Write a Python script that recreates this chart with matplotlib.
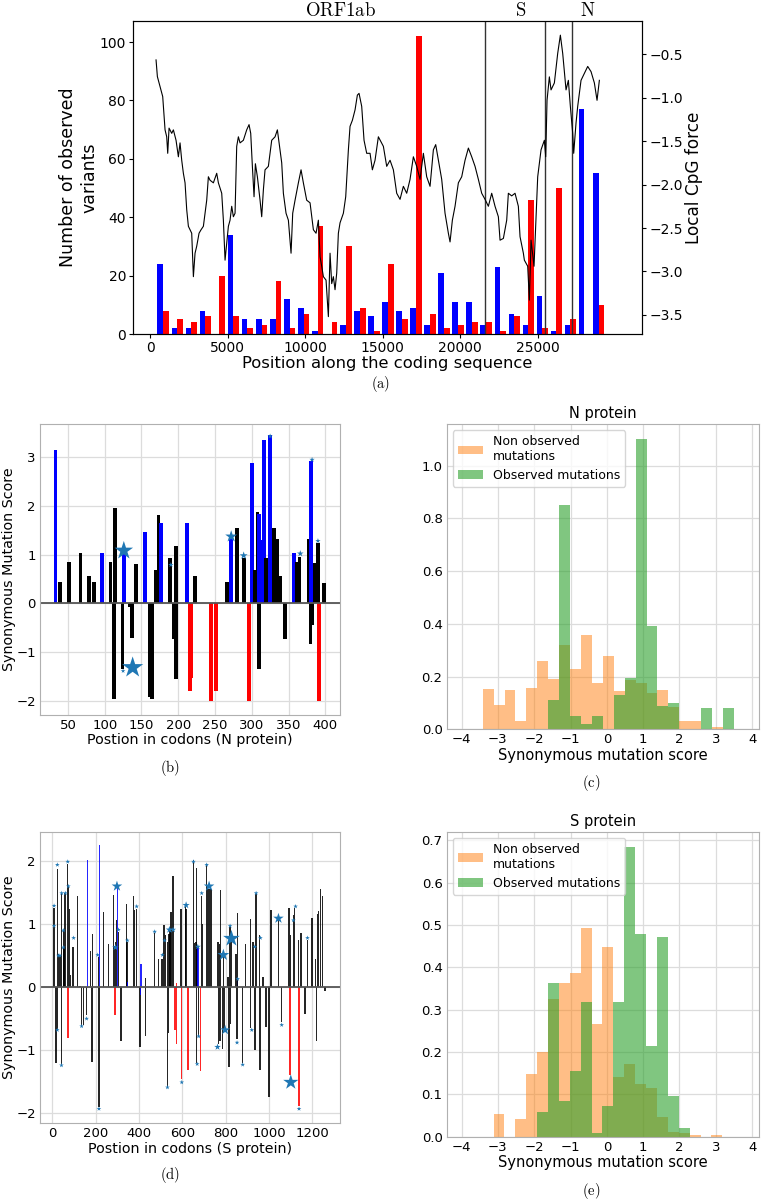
import numpy as np
import matplotlib
matplotlib.use('Agg')
import matplotlib.pyplot as plt
from matplotlib.transforms import blended_transform_factory

plt.rcParams['font.family'] = ['DejaVu Sans']
plt.rcParams['mathtext.fontset'] = 'cm'

# ---------------- panel (a) data ----------------
bin_index = np.arange(32)
bin_start, bin_step = 850, 906
blue_counts = [24, 2, 2, 8, 0, 34, 5, 5, 5, 12, 9, 1, 0, 3, 8, 6, 11, 8, 9, 3,
               21, 11, 11, 3, 23, 7, 3, 13, 1, 3, 77, 55]
red_counts = [8, 5, 4, 6, 20, 6, 2, 3, 18, 2, 7, 37, 4, 30, 9, 1, 24, 5, 102, 7,
              2, 3, 4, 4, 1, 6, 46, 2, 50, 5, 0, 10]
gene_bounds = [21600, 25500, 27200]
gene_names = ['ORF1ab', 'S', 'N']

cpg_pos = [387, 473, 645, 817, 968, 1075, 1140, 1226, 1398, 1505, 1677, 1828, 1935, 2043,
           2150, 2258, 2366, 2473, 2580, 2688, 2796, 2903, 3010, 3161, 3290, 3441, 3548,
           3656, 3763, 3871, 4086, 4301, 4409, 4624, 4731, 4839, 4946, 5054, 5161, 5269,
           5376, 5484, 5591, 5699, 5806, 6021, 6236, 6387, 6495, 6602, 6710, 6796, 6925,
           7097, 7204, 7312, 7419, 7634, 7849, 8065, 8215, 8387, 8495, 8602, 8774, 8925,
           9097, 9204, 9355, 9570, 9742, 9892, 10107, 10323, 10538, 10710, 10860, 10968,
           11075, 11183, 11355, 11505, 11613, 11720, 11828, 11935, 12043, 12150, 12258,
           12473, 12624, 12796, 12903, 13054, 13226, 13376, 13484, 13656, 13806, 13978,
           14194, 14344, 14516, 14731, 15054, 15269, 15484, 15699, 15914, 16129, 16344,
           16559, 16774, 16989, 17204, 17419, 17634, 17849, 18065, 18280, 18430, 18602,
           18817, 19032, 19247, 19355, 19505, 19677, 19892, 20108, 20323, 20538, 20753,
           20968, 21183, 21398, 21613, 21828, 22043, 22258, 22473, 22581, 22796, 23011,
           23118, 23333, 23548, 23763, 23871, 24086, 24151, 24366, 24473, 24581, 24731,
           24774, 25011, 25226, 25441, 25527, 25613, 25763, 25871, 26086, 26301, 26473,
           26624, 26839, 26989, 27118, 27269, 27333, 27484, 27591, 27806, 28022, 28237,
           28452, 28667, 28839, 28989]
cpg_val = [-0.565, -0.757, -0.87, -0.987, -1.37, -1.45, -1.64, -1.35, -1.41, -1.37, -1.49,
           -1.68, -1.52, -1.72, -1.87, -1.98, -2.29, -2.48, -2.52, -2.56, -3.06, -2.79,
           -2.71, -2.56, -2.52, -2.48, -2.33, -2.18, -1.91, -1.95, -1.98, -1.87, -1.98,
           -2.10, -2.41, -2.87, -2.67, -2.48, -2.41, -2.25, -2.37, -2.33, -1.56, -1.45,
           -1.52, -1.49, -1.37, -1.31, -1.41, -1.79, -2.14, -1.76, -1.91, -2.18, -2.37,
           -2.06, -1.83, -1.79, -1.49, -1.45, -1.37, -1.60, -1.75, -2.10, -2.33, -2.41,
           -2.79, -2.33, -2.18, -1.98, -1.83, -1.98, -2.18, -2.21, -2.52, -2.56, -2.41,
           -2.83, -2.94, -3.06, -3.10, -3.52, -2.79, -3.14, -3.06, -3.21, -3.02, -2.56,
           -2.44, -2.33, -2.14, -1.60, -1.33, -1.26, -1.14, -0.97, -0.95, -1.10, -1.49,
           -1.64, -1.64, -1.83, -1.72, -1.45, -1.56, -1.79, -1.72, -1.83, -2.10, -2.17,
           -2.02, -2.10, -1.94, -1.68, -1.79, -1.94, -1.64, -1.91, -2.02, -1.60, -1.54,
           -1.72, -1.94, -2.33, -2.56, -2.66, -2.41, -2.25, -1.98, -1.91, -1.72, -1.58,
           -1.68, -1.79, -1.94, -2.10, -2.17, -2.25, -2.10, -2.25, -2.37, -2.64, -2.62,
           -2.41, -2.10, -2.13, -2.10, -2.25, -2.60, -2.79, -2.87, -2.94, -3.33, -2.64,
           -2.87, -2.94, -1.91, -1.60, -1.49, -1.68, -1.03, -0.76, -0.91, -0.83, -0.49,
           -0.28, -0.49, -0.91, -0.80, -1.10, -1.41, -1.64, -1.29, -1.10, -0.80, -0.72,
           -0.64, -0.70, -0.83, -1.03, -0.80]

# ---------------- panel (b) data: N protein ----------------
n_pos = [33, 39, 51, 67, 79, 85, 96, 108, 114, 126, 143, 155, 170, 173, 177, 189, 197,
         212, 223, 266, 272, 280, 289, 300, 304, 308, 310, 312, 317, 319, 325, 330, 334,
         338, 357, 361, 365, 378, 381, 386, 390, 398,
         113, 124, 134, 137, 161, 164, 194, 197, 216, 218, 245, 251, 296, 310, 345, 380,
         382, 391]
n_score = [3.13, 0.44, 0.85, 1.04, 0.56, 0.44, 1.03, 0.85, 1.95, 1.10, 0.81, 1.47, 0.68,
           1.80, 1.64, 0.92, 1.18, 1.64, 0.56, 0.44, 1.37, 1.54, 0.94, 2.87, 0.69, 1.88,
           1.83, 1.30, 3.35, 0.92, 3.44, 1.54, 1.32, 0.56, 1.03, 0.85, 0.96, 1.32, 2.91,
           0.83, 1.23, 0.42,
           -1.96, -1.33, -0.08, -0.71, -1.91, -1.96, -0.73, -1.55, -1.78, -1.53, -2.0,
           -1.78, -2.0, -1.33, -0.72, -0.83, -0.44, -2.0]
n_color = ['b', 'k', 'k', 'k', 'k', 'k', 'b', 'k', 'k', 'b', 'k', 'b', 'k', 'k', 'b', 'k',
           'k', 'b', 'k', 'k', 'b', 'k', 'k', 'b', 'k', 'k', 'b', 'b', 'b', 'k', 'b', 'k',
           'k', 'k', 'b', 'k', 'k', 'k', 'b', 'k', 'k', 'k',
           'k', 'k', 'k', 'k', 'k', 'k', 'k', 'k', 'r', 'r', 'r', 'r', 'r', 'k', 'k', 'k',
           'k', 'r']
n_star_pos = [126, 138, 125, 190, 272, 289, 325, 366, 382, 390]
n_star_val = [1.08, -1.31, -1.38, 0.79, 1.37, 0.98, 3.42, 1.02, 2.94, 1.28]
n_star_ms = [14, 16, 3.5, 4, 9, 6, 4, 5, 4, 4]

# ---------------- panel (c) data: N protein histogram ----------------
c_range = (-3.42, 3.50)
c_nbins = 23
c_nonobs = [0.152, 0.092, 0.148, 0.03, 0.156, 0.258, 0.191, 0.318, 0.230, 0.356, 0.174,
            0.277, 0.146, 0.186, 0.174, 0.136, 0.148, 0.085, 0.03, 0.03, 0.0, 0.01, 0.0]
c_obs = [0, 0, 0, 0, 0, 0, 0.11, 0.85, 0.05, 0.02, 0.05, 0.0, 0.13, 0.195, 1.10, 0.39,
         0.088, 0.10, 0, 0, 0.08, 0, 0.08]

# ---------------- panel (d) data: S protein ----------------
s_pos = [8, 23, 28, 35, 43, 51, 54, 58, 71, 74, 80, 85, 95, 115, 128, 162, 177, 186, 212,
         218, 235, 260, 283, 288, 292, 297, 300, 305, 342, 345, 348, 374, 378, 388, 409,
         429, 471, 489, 505, 515, 522, 532, 538, 543, 548, 557, 574, 594, 614, 617, 651,
         655, 662, 665, 668, 671, 688, 692, 712, 718, 725, 731, 765, 771, 777, 789, 811,
         820, 826, 848, 854, 855, 892, 914, 925, 940, 955, 972, 1008, 1043, 1092, 1100,
         1112, 1118, 1135, 1148, 1177, 1197, 1214, 1223, 1229, 1238, 1245,
         17, 24, 42, 72, 135, 143, 158, 182, 215, 289, 317, 405, 408, 431, 531, 537, 566,
         572, 597, 625, 666, 675, 683, 767, 774, 786, 792, 814, 821, 852, 878, 915, 934,
         957, 985, 1000, 1058, 1097, 1138, 1166, 1218, 1258]
s_score = [1.26, 1.88, 0.53, 0.50, 1.49, 0.91, 0.64, 1.49, 1.96, 1.60, 1.24, 0.19, 0.64,
           1.44, 0.02, 2.02, 0.57, 0.85, 0.48, 2.25, 1.19, 0.69, 1.46, 0.65, 0.72, 1.07,
           1.60, 0.88, 1.32, 0.72, 0.08, 1.44, 1.22, 1.24, 0.37, 0.14, 0.86, 0.45, 0.45,
           0.98, 0.82, 0.72, 0.85, 0.90, 1.19, 1.76, 0.06, 1.24, 1.28, 1.24, 2.01, 0.70,
           0.72, 1.89, 0.62, 0.65, 1.45, 1.00, 1.93, 1.55, 1.55, 1.55, 0.72, 0.69, 1.54,
           0.51, 0.16, 0.95, 0.78, 0.53, 0.10, 1.18, 0.69, 1.08, 0.72, 1.47, 0.82, 0.16,
           1.23, 1.09, 1.26, 0.82, 1.14, 1.26, 0.74, 0.86, 0.74, 1.09, 0.45, 1.16, 1.20,
           1.55, 1.45,
           -1.20, -0.68, -1.22, -0.80, -0.63, -0.60, -0.45, -1.18, -1.90, -0.45, -0.85,
           -0.95, -0.12, -0.77, -1.58, -0.72, -0.68, -0.90, -1.45, -1.32, -1.20, -0.78,
           -1.33, -0.90, -0.85, -0.98, -0.68, -1.27, -0.58, -0.82, -1.20, -0.65, -1.00,
           -1.32, -0.63, -1.75, -0.55, -1.40, -1.88, -0.43, -0.85, -0.06]
s_color = (['k'] * 15 + ['b'] + ['k'] * 3 + ['b'] + ['k'] * 6 + ['b', 'k', 'k', 'k', 'b']
           + ['k'] * 3 + ['b'] + ['k'] * 11 + ['r'] + ['k'] * 8 + ['b'] + ['k'] * 14
           + ['b'] + ['k'] * 22
           + ['k'] * 3 + ['r'] + ['k'] * 5 + ['r', 'k', 'k', 'b', 'k', 'k', 'k', 'r', 'r',
                                              'r', 'r', 'k', 'k', 'r'] + ['k'] * 14
           + ['r', 'r', 'k', 'k', 'k', 'b'])
s_star_pos = [8, 8, 23, 28, 35, 43, 51, 51, 60, 71, 74, 98, 23, 42, 135, 158, 209, 215,
              291, 298, 305, 346, 389, 472, 508, 518, 531, 540, 557, 597, 617, 651, 668,
              671, 675, 689, 712, 723, 762, 789, 797, 820, 826, 852, 855, 878, 920, 934,
              940, 960, 1043, 1058, 1100, 1112, 1122, 1138, 1177]
s_star_val = [1.29, 0.97, 1.94, 0.50, 0.50, 1.49, 0.90, 0.63, 1.49, 1.99, 1.60, 0.78, -0.68,
              -1.24, -0.62, -0.50, 0.51, -1.93, 0.63, 1.60, 0.91, 0.74, 1.28, 0.88, 0.51,
              0.74, -1.59, 0.91, 0.91, -1.51, 1.30, 1.99, -1.22, 0.64, -0.78, 1.49, 1.94,
              1.60, -0.95, 0.51, -0.68, 0.97, 0.77, -0.88, 0.13, -1.23, -0.68, 0.64, 1.49,
              0.78, 1.09, -0.60, -1.51, 1.06, 1.28, -1.93, 0.78]
s_star_ms = [3.5, 3.5, 3.5, 3.5, 3.5, 3.5, 3.5, 3.5, 3.5, 3.5, 3.5, 3.5, 3.5, 3.5, 3.5,
             3.5, 3.5, 3.5, 5, 8, 3.5, 3.5, 3.5, 3.5, 3.5, 3.5, 3.5, 5.5, 4.5, 3.5, 5.5,
             3.5, 3.5, 4.5, 3.5, 3.5, 3.5, 8, 5, 9, 7.5, 3.5, 12.5, 3.5, 3.5, 3.5, 3.5,
             3.5, 3.5, 3.5, 8, 3.5, 11.5, 3.5, 3.5, 3.5, 3.5]

# ---------------- panel (e) data: S protein histogram ----------------
e_range = (-3.12, 3.18)
e_nbins = 21
e_nonobs = [0.054, 0.0, 0.042, 0.149, 0.20, 0.324, 0.364, 0.386, 0.492, 0.267, 0.447,
            0.142, 0.172, 0.124, 0.114, 0.047, 0.010, 0.008, 0.003, 0.0, 0.005]
e_obs = [0, 0, 0, 0, 0.059, 0.363, 0.085, 0.155, 0.317, 0.008, 0.073, 0.318, 0.685, 0.479,
         0.214, 0.472, 0.097, 0.02, 0, 0, 0]

# ================= drawing =================
W, H = 762, 1200
fig = plt.figure(figsize=(W / 100, H / 100), dpi=100)


def px_axes(l, t, r, b):
    return fig.add_axes([l / W, 1 - b / H, (r - l) / W, (b - t) / H])


def caption(x, y, s):
    fig.text(x / W, 1 - y / H, r'$\mathrm{' + s + '}$', ha='center', va='center',
             fontsize=10.5)


cmap = {'b': '#0000ff', 'r': '#ff0000', 'k': '#000000'}
star_color = '#1f77b4'
grid_col = '#dcdcdc'
frame_col = '#b0b0b0'

# ---- (a)
AL, AT, AR, AB = 133, 21, 642, 334
ax = px_axes(AL, AT, AR, AB)
centers = bin_start + bin_step * bin_index
bw = 370
ax.bar(centers - bw / 2, blue_counts, width=bw, color='#0000ff', linewidth=0)
ax.bar(centers + bw / 2, red_counts, width=bw, color='#ff0000', linewidth=0)
for g in gene_bounds:
    ax.axvline(g, color='#333333', lw=1.0)
ax.set_xlim(-1100, 31740)
ax.set_ylim(0, 107.2)
ax.set_xticks([0, 5000, 10000, 15000, 20000, 25000])
ax.set_yticks([0, 20, 40, 60, 80, 100])
ax.tick_params(labelsize=10, pad=2, length=3)
ax.set_xlabel('Position along the coding sequence', fontsize=11.8)
ax.xaxis.set_label_coords(0.5, -(356 - AB) / (AB - AT))
ax.set_ylabel('Number of observed\nvariants', fontsize=12.5)
ax.yaxis.set_label_coords(-(AL - 98) / (AR - AL), 0.5)
for sp in ax.spines.values():
    sp.set_color('#333333')
ax2 = ax.twinx()
ax2.plot(cpg_pos, cpg_val, color='black', lw=0.8)
ax2.set_ylim(-3.72, -0.117)
ax2.set_yticks([-3.5, -3.0, -2.5, -2.0, -1.5, -1.0, -0.5])
ax2.tick_params(labelsize=10, pad=2.5, length=3)
ax2.set_ylabel('Local CpG force', fontsize=12.2)
ax2.yaxis.set_label_coords((685 - AL) / (AR - AL), 0.5)
tr = blended_transform_factory(ax.transData, ax.transAxes)
for name, gx in zip(gene_names, [12300, 23900, 28250]):
    ax.text(gx, 1.034, r'$\mathrm{' + name + '}$', transform=tr, ha='center', va='center',
            fontsize=13.5)
caption(381, 384, '(a)')


def style_grid(a):
    a.grid(True, color=grid_col, lw=0.9)
    a.set_axisbelow(True)
    for sp in a.spines.values():
        sp.set_color(frame_col)
    a.tick_params(length=0, labelsize=9.5, pad=3)


# ---- (b)
axb = px_axes(40, 424, 340, 714.5)
style_grid(axb)
axb.bar(n_pos, n_score, width=5, color=[cmap[c] for c in n_color], linewidth=0, zorder=2)
axb.axhline(0, color='#555555', lw=1.3, zorder=2.5)
axb.scatter(n_star_pos, n_star_val, s=np.array(n_star_ms) ** 2, marker='*',
            color=star_color, zorder=3, linewidths=0)
axb.set_xlim(12, 420)
axb.set_ylim(-2.27, 3.67)
axb.set_xticks(range(50, 401, 50))
axb.set_yticks([-2, -1, 0, 1, 2, 3])
axb.set_xlabel('Postion in codons (N protein)', fontsize=10.3, labelpad=1)
axb.set_ylabel('Synonymous Mutation Score', fontsize=10.3)
axb.yaxis.set_label_coords(-24 / 300, 0.5)
caption(170, 768, '(b)')

# ---- (d)
axd = px_axes(40, 831.7, 340, 1123.3)
style_grid(axd)
axd.bar(s_pos, s_score, width=6.5, color=[cmap[c] for c in s_color], linewidth=0,
        zorder=2, alpha=0.85)
axd.axhline(0, color='#555555', lw=1.3, zorder=2.5)
axd.scatter(s_star_pos, s_star_val, s=np.array(s_star_ms) ** 2, marker='*',
            color=star_color, zorder=3, linewidths=0)
axd.set_xlim(-57, 1327)
axd.set_ylim(-2.16, 2.465)
axd.set_xticks(range(0, 1201, 200))
axd.set_yticks([-2, -1, 0, 1, 2])
axd.set_xlabel('Postion in codons (S protein)', fontsize=10.3, labelpad=1)
axd.set_ylabel('Synonymous Mutation Score', fontsize=10.3)
axd.yaxis.set_label_coords(-24 / 300, 0.5)
caption(170, 1175, '(d)')


def hist_panel(a, rng, nb, nonobs, obs, title, ymax, yt):
    edges = np.linspace(rng[0], rng[1], nb + 1)
    widths = np.diff(edges)
    a.bar(edges[:-1], nonobs, width=widths, align='edge', color='#ff7f0e', alpha=0.5,
          linewidth=0, label='Non observed\nmutations', zorder=2)
    a.bar(edges[:-1], obs, width=widths, align='edge', color='#2ca02c', alpha=0.6,
          linewidth=0, label='Observed mutations', zorder=2.1)
    style_grid(a)
    a.set_xlim(-4.41, 4.19)
    a.set_ylim(0, ymax)
    a.set_xticks(range(-4, 5))
    a.set_yticks(yt)
    a.set_xlabel('Synonymous mutation score', fontsize=10.5, labelpad=1)
    a.set_title(title, fontsize=10.5, pad=4)
    leg = a.legend(loc='upper left', fontsize=9, frameon=True, fancybox=True,
                   handlelength=2.0, labelspacing=0.45)
    leg.get_frame().set_edgecolor('#cccccc')


axc = px_axes(446.7, 424, 759, 729.3)
hist_panel(axc, c_range, c_nbins, c_nonobs, c_obs, 'N protein', 1.158,
           [0.0, 0.2, 0.4, 0.6, 0.8, 1.0])
caption(591, 783, '(c)')

axe = px_axes(446.7, 831.7, 759, 1136.7)
hist_panel(axe, e_range, e_nbins, e_nonobs, e_obs, 'S protein', 0.72,
           [0.0, 0.1, 0.2, 0.3, 0.4, 0.5, 0.6, 0.7])
caption(591, 1191, '(e)')

fig.savefig('out.png', dpi=100)
